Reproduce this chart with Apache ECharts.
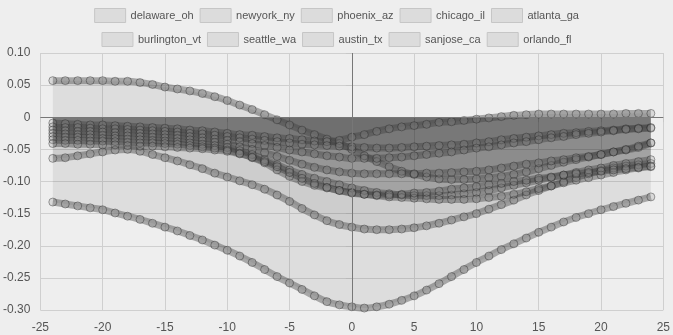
<!DOCTYPE html>
<html>
<head>
<meta charset="utf-8">
<script src="https://cdn.jsdelivr.net/npm/echarts@6/dist/echarts.min.js"></script>
<style>
html,body{margin:0;padding:0;background:#eeeeee;}
#chart{width:673px;height:335px;}
</style>
</head>
<body>
<div id="chart"></div>
<script>
var names = ['delaware_oh','newyork_ny','phoenix_az','chicago_il','atlanta_ga','burlington_vt','seattle_wa','austin_tx','sanjose_ca','orlando_fl'];
var xs = [-24,-23,-22,-21,-20,-19,-18,-17,-16,-15,-14,-13,-12,-11,-10,-9,-8,-7,-6,-5,-4,-3,-2,-1,0,1,2,3,4,5,6,7,8,9,10,11,12,13,14,15,16,17,18,19,20,21,22,23,24];
var xTicks = [-25,-20,-15,-10,-5,0,5,10,15,20,25];
var yTicks = [-0.30,-0.25,-0.20,-0.15,-0.10,-0.05,0,0.05,0.10];

var delaware_oh = [0.057,0.057,0.057,0.057,0.057,0.056,0.056,0.054,0.051,0.047,0.044,0.041,0.037,0.032,0.026,0.019,0.012,0.004,-0.004,-0.012,-0.020,-0.027,-0.034,-0.041,-0.050,-0.060,-0.069,-0.077,-0.084,-0.089,-0.093,-0.096,-0.097,-0.097,-0.096,-0.094,-0.092,-0.089,-0.085,-0.080,-0.075,-0.070,-0.066,-0.062,-0.058,-0.054,-0.051,-0.047,-0.040];
var newyork_ny = [-0.132,-0.135,-0.138,-0.141,-0.144,-0.149,-0.154,-0.159,-0.165,-0.171,-0.177,-0.184,-0.191,-0.199,-0.207,-0.216,-0.226,-0.237,-0.248,-0.258,-0.268,-0.278,-0.287,-0.292,-0.295,-0.297,-0.295,-0.291,-0.285,-0.278,-0.269,-0.259,-0.248,-0.237,-0.226,-0.216,-0.206,-0.197,-0.188,-0.179,-0.171,-0.163,-0.156,-0.150,-0.144,-0.139,-0.134,-0.129,-0.124];
var phoenix_az = [-0.064,-0.063,-0.060,-0.057,-0.054,-0.051,-0.050,-0.053,-0.058,-0.063,-0.068,-0.074,-0.080,-0.087,-0.093,-0.099,-0.105,-0.112,-0.121,-0.131,-0.142,-0.152,-0.161,-0.167,-0.171,-0.174,-0.175,-0.175,-0.174,-0.172,-0.169,-0.165,-0.160,-0.155,-0.150,-0.143,-0.136,-0.129,-0.121,-0.114,-0.107,-0.100,-0.094,-0.088,-0.083,-0.079,-0.076,-0.074,-0.072];
var chicago_il = [-0.009,-0.010,-0.011,-0.012,-0.012,-0.013,-0.014,-0.015,-0.016,-0.017,-0.018,-0.020,-0.021,-0.023,-0.025,-0.027,-0.028,-0.030,-0.032,-0.033,-0.035,-0.037,-0.038,-0.036,-0.031,-0.027,-0.022,-0.018,-0.015,-0.013,-0.011,-0.008,-0.007,-0.005,-0.003,-0.001,0.001,0.003,0.004,0.005,0.005,0.005,0.005,0.005,0.005,0.005,0.006,0.006,0.006];
var atlanta_ga = [-0.015,-0.016,-0.016,-0.017,-0.018,-0.018,-0.019,-0.020,-0.021,-0.022,-0.023,-0.025,-0.026,-0.028,-0.030,-0.032,-0.034,-0.036,-0.038,-0.040,-0.042,-0.043,-0.044,-0.045,-0.046,-0.047,-0.048,-0.048,-0.047,-0.046,-0.045,-0.044,-0.043,-0.042,-0.040,-0.038,-0.035,-0.033,-0.031,-0.029,-0.027,-0.025,-0.024,-0.022,-0.021,-0.020,-0.018,-0.017,-0.016];
var burlington_vt = [-0.020,-0.021,-0.022,-0.022,-0.023,-0.024,-0.024,-0.025,-0.026,-0.027,-0.028,-0.030,-0.032,-0.034,-0.036,-0.038,-0.041,-0.044,-0.047,-0.051,-0.054,-0.057,-0.060,-0.062,-0.064,-0.064,-0.064,-0.063,-0.062,-0.060,-0.058,-0.056,-0.054,-0.051,-0.048,-0.046,-0.043,-0.040,-0.038,-0.035,-0.032,-0.030,-0.027,-0.025,-0.023,-0.021,-0.019,-0.018,-0.017];
var seattle_wa = [-0.025,-0.026,-0.027,-0.027,-0.028,-0.029,-0.029,-0.030,-0.031,-0.032,-0.033,-0.035,-0.037,-0.039,-0.042,-0.046,-0.050,-0.055,-0.061,-0.067,-0.073,-0.078,-0.082,-0.085,-0.087,-0.088,-0.088,-0.088,-0.088,-0.088,-0.087,-0.087,-0.086,-0.085,-0.084,-0.082,-0.079,-0.076,-0.073,-0.071,-0.068,-0.066,-0.063,-0.061,-0.058,-0.054,-0.050,-0.045,-0.040];
var austin_tx = [-0.030,-0.031,-0.031,-0.032,-0.033,-0.033,-0.034,-0.035,-0.036,-0.037,-0.038,-0.040,-0.042,-0.044,-0.047,-0.052,-0.058,-0.066,-0.074,-0.082,-0.089,-0.095,-0.100,-0.105,-0.110,-0.114,-0.117,-0.119,-0.121,-0.122,-0.122,-0.122,-0.121,-0.119,-0.117,-0.114,-0.110,-0.106,-0.102,-0.098,-0.094,-0.090,-0.086,-0.082,-0.079,-0.075,-0.072,-0.069,-0.066];
var sanjose_ca = [-0.035,-0.036,-0.036,-0.037,-0.037,-0.038,-0.039,-0.040,-0.040,-0.041,-0.042,-0.044,-0.046,-0.048,-0.051,-0.056,-0.063,-0.071,-0.082,-0.092,-0.100,-0.106,-0.110,-0.114,-0.117,-0.120,-0.122,-0.124,-0.125,-0.126,-0.127,-0.128,-0.128,-0.128,-0.127,-0.125,-0.123,-0.120,-0.116,-0.111,-0.107,-0.102,-0.098,-0.094,-0.090,-0.086,-0.082,-0.079,-0.077];
var orlando_fl = [-0.041,-0.041,-0.042,-0.042,-0.043,-0.043,-0.044,-0.045,-0.045,-0.046,-0.047,-0.048,-0.049,-0.051,-0.053,-0.057,-0.062,-0.069,-0.077,-0.086,-0.095,-0.103,-0.109,-0.114,-0.118,-0.120,-0.121,-0.121,-0.120,-0.118,-0.117,-0.115,-0.112,-0.110,-0.108,-0.105,-0.103,-0.100,-0.098,-0.095,-0.093,-0.090,-0.088,-0.086,-0.084,-0.082,-0.080,-0.078,-0.076];

var values = [delaware_oh,newyork_ny,phoenix_az,chicago_il,atlanta_ga,burlington_vt,seattle_wa,austin_tx,sanjose_ca,orlando_fl];

function pairs(arr){ return xs.map(function(x,i){ return [x, arr[i]]; }); }

var series = names.map(function(n, idx){
  var s = {
    name: n,
    type: 'line',
    smooth: true,
    data: pairs(values[idx]),
    symbol: 'circle',
    symbolSize: 8,
    showSymbol: true,
    lineStyle: { width: 7, color: 'rgba(60,60,60,0.4)' },
    itemStyle: { color: 'rgba(150,150,150,0.25)', borderColor: 'rgba(30,30,30,0.4)', borderWidth: 1 },
    areaStyle: { color: 'rgba(0,0,0,0.1)' },
    emphasis: { disabled: true },
    z: 2
  };
  if (idx === 0) {
    s.markLine = {
      silent: true,
      symbol: ['none','none'],
      label: { show: false },
      lineStyle: { color: '#777', type: 'solid', width: 1 },
      data: [{ xAxis: 0 }, { yAxis: 0 }]
    };
  }
  return s;
});

var legendCommon = {
  icon: 'rect',
  itemWidth: 31,
  itemHeight: 14,
  itemGap: 6,
  padding: 0,
  left: 'center',
  itemStyle: { color: '#dcdcdc', borderColor: '#c6c6c6', borderWidth: 1 },
  textStyle: { color: '#555', fontSize: 11, fontFamily: 'Arial, "Liberation Sans", sans-serif' },
  selectedMode: false
};

var chart = echarts.init(document.getElementById('chart'), null, { renderer: 'canvas' });
chart.setOption({
  backgroundColor: '#eeeeee',
  animation: false,
  legend: [
    Object.assign({}, legendCommon, { top: 8, data: names.slice(0,5) }),
    Object.assign({}, legendCommon, { top: 32, data: names.slice(5) })
  ],
  grid: { left: 40, right: 8, top: 53, bottom: 25, containLabel: false },
  xAxis: {
    type: 'value', min: -25, max: 25, interval: 5,
    axisLine: { show: false },
    axisTick: { show: true, length: 5, lineStyle: { color: '#c8c8c8' } },
    axisLabel: { color: '#555', fontSize: 12, margin: 12, fontFamily: 'Arial, "Liberation Sans", sans-serif' },
    splitLine: { show: true, lineStyle: { color: '#cfcfcf' } }
  },
  yAxis: {
    type: 'value', min: -0.30, max: 0.10, interval: 0.05,
    axisLine: { show: false },
    axisTick: { show: true, length: 6, lineStyle: { color: '#c8c8c8' } },
    axisLabel: { color: '#555', fontSize: 12, margin: 10, fontFamily: 'Arial, "Liberation Sans", sans-serif',
      formatter: function(v){ return Math.abs(v) < 1e-9 ? '0' : v.toFixed(2); } },
    splitLine: { show: true, lineStyle: { color: '#cfcfcf' } }
  },
  series: series
});
</script>
</body>
</html>
